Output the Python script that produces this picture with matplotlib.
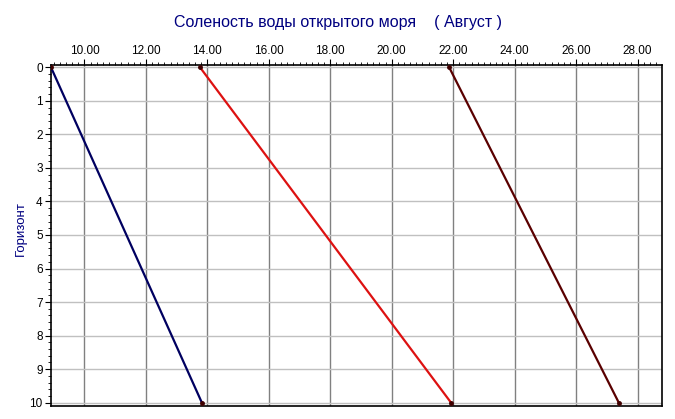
import matplotlib
matplotlib.use("Agg")
import matplotlib.pyplot as plt
from matplotlib.ticker import MultipleLocator, FormatStrFormatter

plt.rcParams['font.family'] = ['Liberation Sans', 'DejaVu Sans']

# depth (horizon) and salinity for each series
depth = [0, 10]
sal_1 = [8.91, 13.82]
sal_2 = [13.76, 21.93]
sal_3 = [21.87, 27.39]

colors = ['#000060', '#dd1111', '#5a0000']

fig = plt.figure(figsize=(6.75, 4.19), dpi=100)
ax = fig.add_axes([51 / 675, 1 - 406 / 419, (661.5 - 51) / 675, (406 - 65) / 419])

for s, c in zip([sal_1, sal_2, sal_3], colors):
    ax.plot(s, depth, color=c, lw=1.6, marker='o', ms=2.5,
            mfc='#400000', mec='#400000', zorder=3)

ax.set_xlim(8.91, 28.78)
ax.set_ylim(10.1, -0.07)

ax.xaxis.tick_top()
ax.xaxis.set_major_locator(MultipleLocator(2))
ax.xaxis.set_minor_locator(MultipleLocator(0.2))
ax.xaxis.set_major_formatter(FormatStrFormatter('%.2f'))
ax.yaxis.set_major_locator(MultipleLocator(1))
ax.yaxis.set_minor_locator(MultipleLocator(0.2))

ax.tick_params(axis='both', which='major', labelsize=8.5, length=4, width=0.8,
               direction='out', pad=2)
ax.tick_params(axis='both', which='minor', length=2.5, width=0.6, direction='out')

ax.grid(True, axis='x', which='major', color='#808080', lw=1.0)
ax.grid(True, axis='y', which='major', color='#c0c0c0', lw=1.0)

for sp in ax.spines.values():
    sp.set_color('black')
    sp.set_linewidth(1.2)

ax.set_ylabel('Горизонт', fontsize=9.5, color='#000080')
ax.yaxis.set_label_coords(-(51 - 27) / (661.5 - 51), 0.52)

fig.text(0.5, 1 - 22 / 419, 'Соленость воды открытого моря    ( Август )',
         ha='center', va='center', fontsize=11.5, color='#000080')

fig.savefig('out.png', dpi=100)
